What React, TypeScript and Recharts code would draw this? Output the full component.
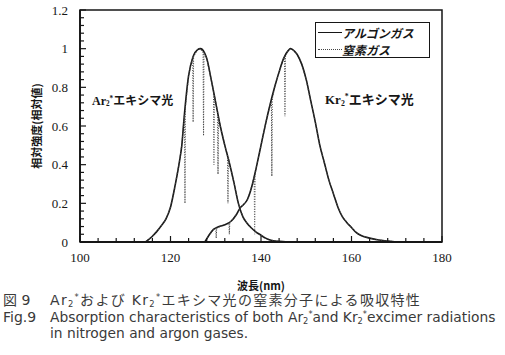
import React from "react";
import { LineChart, Line, XAxis, YAxis, ReferenceArea, Label } from "recharts";

// Ar2* emission, measured in argon (solid)
const arWavelength = [114.5, 116, 117, 118, 119, 120, 121, 122, 122.5, 123, 124, 125, 126, 126.6, 127.5, 128, 129, 130, 131, 132, 133, 134, 135, 136, 137, 138, 139, 140, 141, 142, 144, 146];
const arInArgon = [0, 0.03, 0.055, 0.085, 0.12, 0.18, 0.29, 0.42, 0.5, 0.64, 0.86, 0.96, 0.995, 1.0, 0.98, 0.95, 0.84, 0.72, 0.6, 0.5, 0.41, 0.31, 0.2, 0.13, 0.095, 0.07, 0.05, 0.035, 0.02, 0.01, 0.003, 0];

// Ar2* emission, measured in nitrogen (dotted, with absorption lines)
const arN2Wavelength = [114.5, 116, 117, 118, 119, 120, 121, 122, 122.5, 123, 123.1, 123.2, 123.3, 124, 124.9, 125, 125.1, 126, 126.6, 127.2, 127.3, 127.4, 128, 129, 129.5, 129.6, 129.7, 130.4, 130.5, 130.6, 131, 132, 132.6, 132.7, 132.8, 133, 134, 135, 136, 137, 138, 139, 140, 141, 142, 144, 146];
const arInNitrogen = [0, 0.03, 0.055, 0.085, 0.12, 0.18, 0.29, 0.42, 0.5, 0.64, 0.66, 0.2, 0.7, 0.86, 0.96, 0.62, 0.96, 0.995, 1.0, 0.98, 0.55, 0.98, 0.95, 0.84, 0.78, 0.4, 0.76, 0.67, 0.35, 0.65, 0.6, 0.5, 0.45, 0.2, 0.44, 0.41, 0.31, 0.2, 0.13, 0.095, 0.07, 0.05, 0.035, 0.02, 0.01, 0.003, 0];

// Kr2* emission, measured in argon (solid)
const krWavelength = [127.6, 128.5, 129.5, 130.5, 131.5, 132.5, 133.5, 134.5, 135.5, 136, 137, 138, 139, 140, 141, 142, 143, 144, 145, 146, 146.5, 147, 148, 149, 150, 151, 152, 153, 154, 155, 156, 157, 158, 159, 160, 161, 162, 164, 166, 168, 170];
const krInArgon = [0, 0.035, 0.065, 0.078, 0.085, 0.094, 0.11, 0.14, 0.18, 0.19, 0.22, 0.29, 0.39, 0.5, 0.61, 0.71, 0.8, 0.88, 0.95, 0.99, 1.0, 0.995, 0.97, 0.92, 0.84, 0.73, 0.62, 0.5, 0.41, 0.32, 0.25, 0.18, 0.13, 0.1, 0.075, 0.05, 0.035, 0.02, 0.01, 0.005, 0];

// Kr2* emission, measured in nitrogen (dotted)
const krN2Wavelength = [127.6, 128.5, 129.5, 130, 130.1, 130.2, 131.5, 132.5, 132.9, 133, 133.1, 134.5, 135.5, 136, 137, 138, 138.5, 138.6, 138.7, 139, 140, 141, 142, 142.3, 142.4, 142.5, 143, 144, 145, 145.2, 145.3, 145.4, 146, 146.5, 147, 148, 149, 150, 151, 152, 153, 154, 155, 156, 157, 158, 159, 160, 161, 162, 164, 166, 168, 170];
const krInNitrogen = [0, 0.035, 0.065, 0.07, 0.02, 0.072, 0.085, 0.094, 0.1, 0.04, 0.1, 0.14, 0.18, 0.19, 0.22, 0.29, 0.34, 0.04, 0.35, 0.39, 0.5, 0.61, 0.71, 0.73, 0.34, 0.74, 0.8, 0.88, 0.95, 0.96, 0.65, 0.96, 0.99, 1.0, 0.995, 0.97, 0.92, 0.84, 0.73, 0.62, 0.5, 0.41, 0.32, 0.25, 0.18, 0.13, 0.1, 0.075, 0.05, 0.035, 0.02, 0.01, 0.005, 0];

const xTicks = [100, 104, 108, 112, 116, 120, 124, 128, 132, 136, 140, 144, 148, 152, 156, 160, 164, 168, 172, 176, 180];
const yTicks = [0, 0.04, 0.08, 0.12, 0.16, 0.2, 0.24, 0.28, 0.32, 0.36, 0.4, 0.44, 0.48, 0.52, 0.56, 0.6, 0.64, 0.68, 0.72, 0.76, 0.8, 0.84, 0.88, 0.92, 0.96, 1, 1.04, 1.08, 1.12, 1.16, 1.2];

const toPoints = (xs: number[], ys: number[]) => xs.map((x, i) => ({ x, y: ys[i] }));

const INK = "#161616";
const SERIF = "'Liberation Serif', 'Noto Sans CJK JP', serif";
const GOTHIC = "'DejaVu Sans', 'Noto Sans CJK JP', sans-serif";
const JP = "'Noto Sans CJK JP', sans-serif";

const XTick = (props: any) => {
  const { x, y, payload } = props;
  const v = payload.value;
  const major = v % 20 === 0;
  return (
    <g>
      <line x1={x} y1={y} x2={x} y2={y - (major ? 6 : 4)} stroke={INK} strokeWidth={1.2} />
      {major && (
        <text x={x} y={y + 20} textAnchor="middle" fontSize={13} fontFamily={SERIF} fill={INK}>
          {v}
        </text>
      )}
    </g>
  );
};

const YTick = (props: any) => {
  const { x, y, payload } = props;
  const v = payload.value;
  const major = Math.abs(Math.round(v * 5) - v * 5) < 1e-6;
  return (
    <g>
      <line x1={x} y1={y} x2={x + (major ? 6 : 4)} y2={y} stroke={INK} strokeWidth={1.2} />
      {major && (
        <text x={x - 12} y={y + 4.5} textAnchor="end" fontSize={13} fontFamily={SERIF} fill={INK}>
          {v}
        </text>
      )}
    </g>
  );
};

const abs = (left: number, top: number): React.CSSProperties => ({ position: "absolute", left, top, whiteSpace: "nowrap" });

const subStyle: React.CSSProperties = { fontSize: "0.6em", verticalAlign: "-0.2em", lineHeight: 0 };
const supStyle: React.CSSProperties = { fontSize: "0.6em", verticalAlign: "0.6em", lineHeight: 0 };

const Dimer = ({ el }: { el: string }) => (
  <>
    {el}
    <span style={subStyle}>2</span>
    <span style={supStyle}>*</span>
  </>
);

export default function App() {
  return (
    <div style={{ position: "absolute", left: 0, top: 0, width: 505, height: 355, background: "#fff" }}>
      <div style={{ position: "relative", width: 505, height: 300 }}>
        <LineChart width={505} height={300} margin={{ top: 10, right: 63, bottom: 0, left: 0 }}>
          <XAxis dataKey="x" type="number" domain={[100, 180]} ticks={xTicks} interval={0} tickSize={0} tickMargin={0} tickLine={false} tick={<XTick />} height={58} stroke={INK} strokeWidth={1.8} allowDataOverflow>
            <Label value="波長(nm)" position="insideBottom" offset={10} fontSize={11} fontWeight={700} fontFamily={JP} fill={INK} />
          </XAxis>
          <YAxis type="number" domain={[0, 1.2]} ticks={yTicks} interval={0} tickSize={0} tickMargin={0} tickLine={false} tick={<YTick />} width={80} stroke={INK} strokeWidth={1.8} allowDataOverflow>
            <Label value="相対強度(相対値)" angle={-90} position="center" dx={-3} fontSize={11} fontWeight={700} fontFamily={JP} fill={INK} />
          </YAxis>
          <ReferenceArea x1={100} x2={180} y1={0} y2={1.2} fill="none" stroke={INK} strokeWidth={1.5} />
          <Line data={toPoints(arWavelength, arInArgon)} dataKey="y" type="monotone" stroke={INK} strokeWidth={1.6} dot={false} isAnimationActive={false} />
          <Line data={toPoints(krWavelength, krInArgon)} dataKey="y" type="monotone" stroke={INK} strokeWidth={1.6} dot={false} isAnimationActive={false} />
          <Line data={toPoints(arN2Wavelength, arInNitrogen)} dataKey="y" type="linear" stroke="#444" strokeWidth={1.1} strokeDasharray="1 1.5" dot={false} isAnimationActive={false} />
          <Line data={toPoints(krN2Wavelength, krInNitrogen)} dataKey="y" type="linear" stroke="#444" strokeWidth={1.1} strokeDasharray="1 1.5" dot={false} isAnimationActive={false} />
        </LineChart>
      </div>

      {/* curve labels */}
      <div style={{ ...abs(92, 91), fontFamily: SERIF, fontSize: 12, fontWeight: 700, color: INK }}>
        <Dimer el="Ar" />エキシマ光
      </div>
      <div style={{ ...abs(325, 89), fontFamily: SERIF, fontSize: 13, fontWeight: 700, color: INK }}>
        <Dimer el="Kr" />エキシマ光
      </div>

      {/* legend */}
      <div style={{ position: "absolute", left: 315, top: 22, width: 113, height: 34, border: `1.5px solid ${INK}`, background: "#fff" }}>
        <div style={{ position: "absolute", left: 2, top: 9, width: 24, borderTop: `1.5px solid ${INK}` }} />
        <div style={{ position: "absolute", left: 2, top: 26, width: 24, borderTop: "1.2px dotted #444" }} />
        <div style={{ ...abs(26, 1), fontFamily: JP, fontSize: 12, fontStyle: "italic", fontWeight: 700, color: INK, lineHeight: "17px" }}>
          アルゴンガス
          <br />
          窒素ガス
        </div>
      </div>

      {/* caption */}
      <div style={{ ...abs(3, 292), fontFamily: GOTHIC, fontSize: 14, color: "#3a3a3a", lineHeight: "17px" }}>
        図 9
        <br />
        Fig.9
      </div>
      <div style={{ ...abs(50, 292), fontFamily: GOTHIC, fontSize: 14, letterSpacing: 1.3, color: "#3a3a3a", lineHeight: "17px" }}>
        <Dimer el="Ar" />および <Dimer el="Kr" />エキシマ光の窒素分子による吸収特性
      </div>
      <div style={{ ...abs(50, 309), fontFamily: GOTHIC, fontSize: 13.8, color: "#3a3a3a", lineHeight: "16px" }}>
        Absorption characteristics of both <Dimer el="Ar" />and <Dimer el="Kr" />excimer radiations
        <br />
        in nitrogen and argon gases.
      </div>
    </div>
  );
}
